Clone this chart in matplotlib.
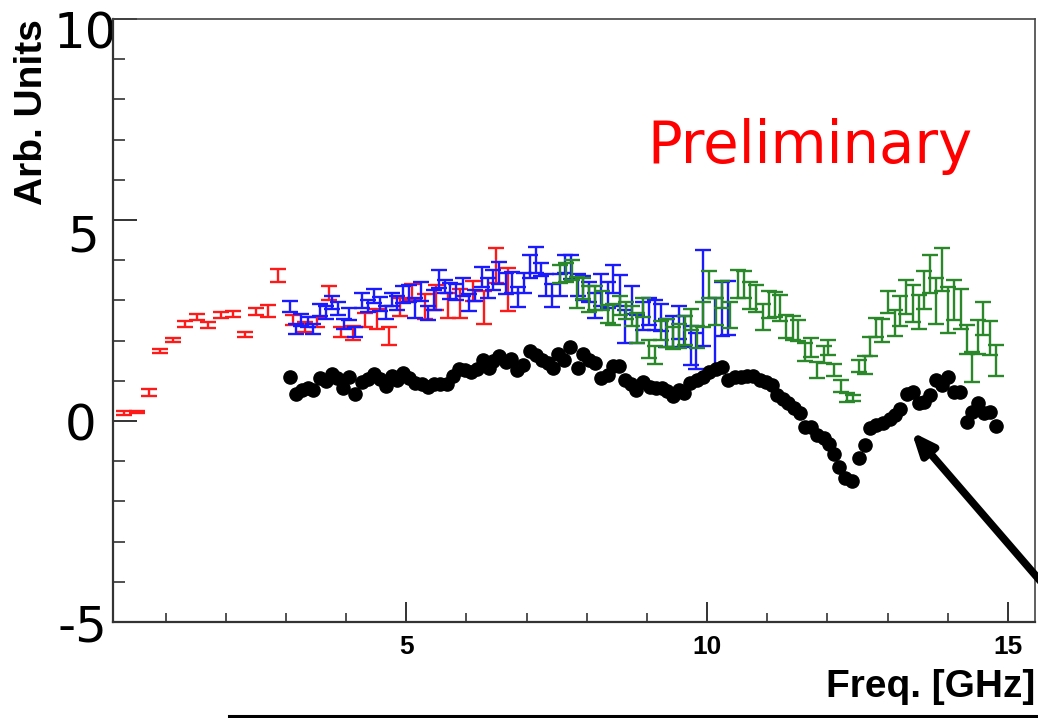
import matplotlib
matplotlib.use("Agg")
import matplotlib.pyplot as plt
from matplotlib.lines import Line2D
from matplotlib.ticker import MultipleLocator
from matplotlib.transforms import ScaledTranslation

# ---- measured spectra -------------------------------------------------------
red_freq = [0.31, 0.53, 0.73, 0.91, 1.12, 1.33, 1.53, 1.71, 1.92, 2.12, 2.32,
            2.50, 2.71, 2.87, 3.12, 3.31, 3.51, 3.71, 3.91, 4.11, 4.31, 4.51,
            4.71, 4.89, 5.10, 5.31, 5.50, 5.69, 5.90, 6.11, 6.30, 6.50, 6.69]
red_val = [0.21, 0.22, 0.71, 1.75, 2.02, 2.42, 2.58, 2.39, 2.64, 2.66, 2.15,
           2.72, 2.74, 3.61, 2.51, 2.34, 2.46, 3.18, 2.21, 2.19, 2.51, 2.54,
           2.12, 2.83, 3.22, 2.85, 3.08, 2.87, 2.93, 3.24, 2.82, 3.87, 3.27]
red_err = [0.05, 0.02, 0.08, 0.05, 0.05, 0.07, 0.07, 0.07, 0.08, 0.07, 0.07,
           0.08, 0.15, 0.16, 0.13, 0.13, 0.12, 0.17, 0.12, 0.17, 0.18, 0.24,
           0.23, 0.23, 0.20, 0.31, 0.31, 0.31, 0.36, 0.25, 0.41, 0.44, 0.54]

blue_freq = [3.07, 3.17, 3.25, 3.36, 3.45, 3.57, 3.66, 3.76, 3.87, 3.96, 4.05,
             4.15, 4.26, 4.36, 4.47, 4.56, 4.66, 4.76, 4.85, 4.94, 5.05, 5.15,
             5.25, 5.36, 5.46, 5.55, 5.64, 5.73, 5.83, 5.94, 6.04, 6.15, 6.26,
             6.36, 6.44, 6.54, 6.65, 6.75, 6.85, 6.95, 7.05, 7.16, 7.24, 7.33,
             7.43, 7.55, 7.64, 7.74, 7.85, 7.93, 8.03, 8.13, 8.24, 8.35, 8.44,
             8.55, 8.64, 8.75, 8.83, 8.93, 9.04, 9.14, 9.23, 9.32, 9.44, 9.54,
             9.62, 9.73, 9.82, 9.93, 10.13, 10.24, 10.34]
blue_val = [2.85, 2.29, 2.52, 2.46, 2.29, 2.77, 2.70, 2.94, 2.79, 2.41, 2.67,
            2.21, 3.00, 2.87, 3.11, 2.91, 2.71, 3.02, 2.94, 3.14, 3.18, 2.81,
            3.22, 2.69, 3.02, 3.53, 3.34, 3.23, 3.22, 3.33, 2.95, 3.12, 3.58,
            3.31, 3.51, 3.68, 3.42, 3.44, 3.09, 3.43, 3.85, 4.01, 3.77, 3.38,
            3.13, 3.38, 3.91, 3.83, 3.38, 3.31, 3.20, 2.87, 3.25, 3.13, 3.54,
            3.25, 2.35, 3.00, 2.29, 2.62, 2.73, 2.64, 2.57, 2.19, 2.22, 2.45,
            2.23, 1.88, 1.74, 3.06, 2.20, 2.79, 2.82]
blue_err = [0.14, 0.13, 0.15, 0.12, 0.12, 0.15, 0.16, 0.16, 0.16, 0.13, 0.15,
            0.12, 0.19, 0.15, 0.17, 0.18, 0.16, 0.17, 0.17, 0.21, 0.21, 0.25,
            0.23, 0.17, 0.25, 0.22, 0.16, 0.20, 0.20, 0.23, 0.21, 0.14, 0.25,
            0.25, 0.24, 0.27, 0.26, 0.26, 0.25, 0.25, 0.29, 0.33, 0.17, 0.28,
            0.29, 0.28, 0.23, 0.30, 0.28, 0.29, 0.25, 0.31, 0.40, 0.32, 0.35,
            0.39, 0.42, 0.35, 0.35, 0.35, 0.33, 0.37, 0.34, 0.34, 0.39, 0.40,
            0.39, 0.48, 0.45, 1.20, 0.85, 0.68, 0.67]

green_freq = [7.56, 7.65, 7.75, 7.83, 7.94, 8.03, 8.14, 8.26, 8.36, 8.44, 8.55,
              8.65, 8.75, 8.84, 8.93, 9.04, 9.13, 9.23, 9.33, 9.44, 9.54, 9.64,
              9.73, 9.84, 9.93, 10.04, 10.15, 10.25, 10.38, 10.51, 10.62, 10.72,
              10.82, 10.93, 11.03, 11.13, 11.21, 11.32, 11.43, 11.51, 11.63,
              11.73, 11.83, 11.94, 12.01, 12.11, 12.23, 12.33, 12.42, 12.52,
              12.62, 12.71, 12.80, 12.90, 13.01, 13.12, 13.21, 13.31, 13.42,
              13.52, 13.60, 13.70, 13.80, 13.91, 14.01, 14.11, 14.22, 14.32,
              14.40, 14.50, 14.59, 14.70, 14.80]
green_val = [3.66, 3.70, 3.76, 3.20, 3.30, 3.04, 3.06, 3.00, 2.66, 2.66, 2.88,
             2.74, 2.62, 2.31, 2.82, 1.79, 1.65, 2.26, 2.19, 2.07, 2.12, 2.25,
             2.53, 2.09, 2.66, 3.39, 2.73, 3.15, 2.64, 3.41, 3.39, 3.12, 3.05,
             2.59, 2.90, 2.90, 2.81, 2.35, 2.31, 2.26, 1.71, 1.82, 1.28, 1.66,
             1.83, 1.28, 0.87, 0.59, 0.58, 1.38, 1.39, 1.85, 2.32, 2.26, 2.96,
             2.44, 2.73, 3.09, 2.93, 2.71, 3.26, 3.66, 2.99, 3.77, 2.76, 3.01,
             2.78, 2.03, 1.35, 2.09, 2.55, 2.06, 1.51]
green_err = [0.23, 0.23, 0.24, 0.39, 0.27, 0.32, 0.29, 0.23, 0.23, 0.26, 0.24,
             0.21, 0.25, 0.37, 0.24, 0.23, 0.22, 0.24, 0.34, 0.28, 0.30, 0.35,
             0.26, 0.28, 0.31, 0.33, 0.33, 0.34, 0.33, 0.35, 0.33, 0.33, 0.34,
             0.32, 0.34, 0.32, 0.33, 0.29, 0.29, 0.26, 0.22, 0.24, 0.20, 0.21,
             0.19, 0.15, 0.14, 0.11, 0.07, 0.15, 0.22, 0.24, 0.24, 0.29, 0.28,
             0.33, 0.37, 0.42, 0.46, 0.42, 0.47, 0.48, 0.57, 0.54, 0.58, 0.50,
             0.50, 0.36, 0.37, 0.42, 0.40, 0.42, 0.38]

black_freq = [3.07, 3.16, 3.26, 3.36, 3.45, 3.56, 3.66, 3.76, 3.85, 3.95, 4.05,
              4.15, 4.26, 4.36, 4.46, 4.56, 4.66, 4.76, 4.85, 4.95, 5.04, 5.15,
              5.26, 5.36, 5.46, 5.56, 5.67, 5.78, 5.88, 5.98, 6.08, 6.18, 6.27,
              6.37, 6.45, 6.55, 6.65, 6.74, 6.84, 6.94, 7.05, 7.15, 7.25, 7.35,
              7.44, 7.53, 7.62, 7.73, 7.85, 7.94, 8.03, 8.14, 8.24, 8.35, 8.44,
              8.53, 8.63, 8.73, 8.82, 8.93, 9.05, 9.15, 9.25, 9.34, 9.44, 9.54,
              9.62, 9.72, 9.83, 9.93, 10.04, 10.15, 10.24, 10.34, 10.46, 10.56,
              10.67, 10.77, 10.88, 10.98, 11.08, 11.17, 11.26, 11.35, 11.45,
              11.54, 11.63, 11.73, 11.83, 11.94, 12.02, 12.11, 12.20, 12.30,
              12.41, 12.52, 12.62, 12.71, 12.81, 12.93, 13.04, 13.12, 13.21,
              13.32, 13.42, 13.53, 13.61, 13.71, 13.80, 13.90, 14.01, 14.10,
              14.21, 14.32, 14.40, 14.50, 14.60, 14.70, 14.81]
black_val = [1.10, 0.68, 0.77, 0.81, 0.78, 1.07, 1.00, 1.16, 1.08, 0.83, 1.10,
             0.68, 0.98, 1.05, 1.16, 1.04, 0.86, 1.11, 1.03, 1.20, 1.06, 0.95,
             0.93, 0.84, 0.93, 0.93, 0.92, 1.12, 1.30, 1.28, 1.22, 1.30, 1.52,
             1.33, 1.50, 1.61, 1.46, 1.55, 1.26, 1.40, 1.74, 1.65, 1.53, 1.44,
             1.31, 1.66, 1.53, 1.85, 1.33, 1.66, 1.52, 1.45, 1.08, 1.15, 1.36,
             1.37, 1.03, 0.92, 0.77, 0.98, 0.85, 0.82, 0.81, 0.74, 0.63, 0.78,
             0.69, 0.95, 1.03, 1.10, 1.22, 1.30, 1.35, 1.02, 1.10, 1.10, 1.13,
             1.12, 1.02, 0.98, 0.90, 0.65, 0.54, 0.44, 0.32, 0.21, -0.14, -0.15,
             -0.36, -0.43, -0.56, -0.83, -1.14, -1.43, -1.49, -0.93, -0.60,
             -0.18, -0.11, -0.05, 0.04, 0.16, 0.30, 0.67, 0.71, 0.45, 0.48,
             0.64, 1.01, 0.90, 1.10, 0.73, 0.71, -0.02, 0.23, 0.44, 0.19, 0.23,
             -0.13]

y_ticks = [-5, 0, 5, 10]
y_tick_labels = ["-5", "0", "5", "10"]
x_ticks = [5, 10, 15]
x_tick_labels = ["5", "10", "15"]

# ---- figure -----------------------------------------------------------------
fig = plt.figure(figsize=(10.38, 7.18), dpi=100)
ax = fig.add_axes([0.1085, 0.1337, 0.8886, 0.8398])

bar_style = dict(fmt="none", elinewidth=1.7, capsize=5.5, capthick=1.7)
ax.errorbar(red_freq, red_val, yerr=red_err, ecolor="#ff1a1a", **bar_style)
ax.errorbar(blue_freq, blue_val, yerr=blue_err, ecolor="#1a1aff", **bar_style)
ax.errorbar(green_freq, green_val, yerr=green_err, ecolor="#2a872a", **bar_style)
ax.plot(black_freq, black_val, linestyle="none", marker="o", markersize=9.5,
        color="black")

ax.set_xlim(0.12, 15.45)
ax.set_ylim(-5, 10)

# axis frame
for side in ("left", "bottom"):
    ax.spines[side].set_linewidth(1.6)
    ax.spines[side].set_color("#333333")
for side in ("top", "right"):
    ax.spines[side].set_linewidth(1.2)
    ax.spines[side].set_color("#444444")

ax.set_xticks(x_ticks)
ax.set_xticklabels(x_tick_labels, family="Liberation Sans", weight="bold",
                   fontsize=19)
ax.xaxis.set_minor_locator(MultipleLocator(1))
ax.set_yticks(y_ticks)
ax.set_yticklabels(y_tick_labels, family="DejaVu Sans", fontsize=36)
ax.yaxis.set_minor_locator(MultipleLocator(1))

ax.tick_params(axis="x", which="major", direction="in", length=14.5, width=1.4,
               color="#333333", pad=9, top=False)
ax.tick_params(axis="x", which="minor", direction="in", length=6.5, width=1.2,
               color="#333333", top=False)
ax.tick_params(axis="y", which="major", direction="in", length=17, width=1.4,
               color="#333333", pad=9, right=False)
ax.tick_params(axis="y", which="minor", direction="in", length=8.5, width=1.2,
               color="#333333", right=False)

# individual nudges of the large y labels
nudges = {"10": (17, -10), "5": (-1, -12), "0": (-4, 0), "-5": (7, 0)}
for lab in ax.get_yticklabels():
    dx, dy = nudges.get(lab.get_text(), (0, 0))
    lab.set_transform(lab.get_transform()
                      + ScaledTranslation(dx / 100, dy / 100, fig.dpi_scale_trans))

ax.set_xlabel("Freq. [GHz]", family="Liberation Sans", weight="bold",
              fontsize=28)
ax.xaxis.set_label_coords(1.0, -0.078)
ax.xaxis.label.set_ha("right")
ax.set_ylabel("Arb. Units", family="Liberation Sans", weight="bold",
              fontsize=28)
ax.yaxis.set_label_coords(-0.068, 1.0)
ax.yaxis.label.set_ha("right")

ax.text(0.580, 0.761, "Preliminary", transform=ax.transAxes, color="#ff0000",
        fontsize=41.5, family="DejaVu Sans", ha="left", va="baseline")

ax.annotate("", xy=(13.40, -0.27), xytext=(16.3, -5.3), xycoords="data",
            textcoords="data", annotation_clip=False,
            arrowprops=dict(arrowstyle="-|>,head_length=1.3,head_width=0.55",
                            color="black", lw=5.5, shrinkA=0, shrinkB=0))

fig.add_artist(Line2D([229 / 1038, 1.05], [2.5 / 718, 2.5 / 718],
                      transform=fig.transFigure, color="black", lw=2.2))

fig.savefig("out.png", dpi=100)
